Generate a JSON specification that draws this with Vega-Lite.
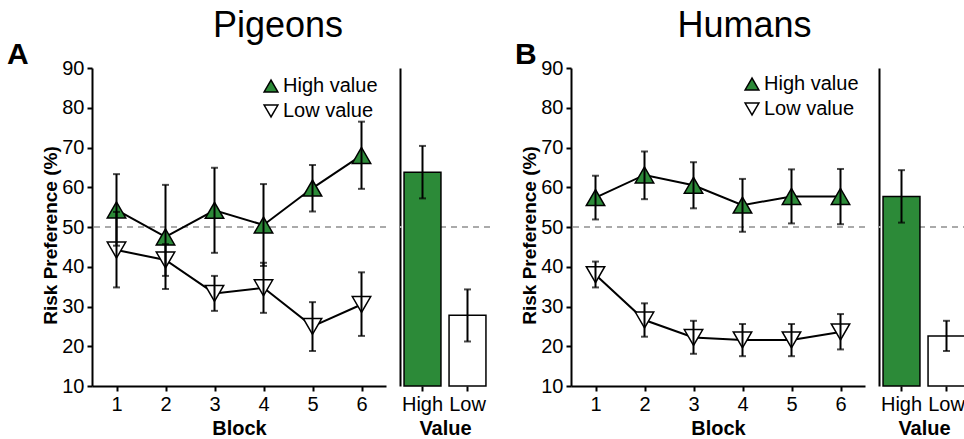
{
  "$schema": "https://vega.github.io/schema/vega-lite/v6.json",
  "background": "white",
  "padding": {"left": 7, "top": 8, "right": 0, "bottom": 0},
  "datasets": {
    "lines": [
      {"species": "Pigeons", "series": "High value", "block": 1, "mean": 54.3, "lo": 45.3, "hi": 63.3},
      {"species": "Pigeons", "series": "High value", "block": 2, "mean": 47.5, "lo": 34.4, "hi": 60.6},
      {"species": "Pigeons", "series": "High value", "block": 3, "mean": 54.2, "lo": 43.5, "hi": 64.9},
      {"species": "Pigeons", "series": "High value", "block": 4, "mean": 50.5, "lo": 40.2, "hi": 60.8},
      {"species": "Pigeons", "series": "High value", "block": 5, "mean": 59.8, "lo": 53.9, "hi": 65.6},
      {"species": "Pigeons", "series": "High value", "block": 6, "mean": 68.0, "lo": 59.6, "hi": 76.5},
      {"species": "Pigeons", "series": "Low value", "block": 1, "mean": 44.2, "lo": 34.8, "hi": 53.8},
      {"species": "Pigeons", "series": "Low value", "block": 2, "mean": 41.7, "lo": 37.7, "hi": 45.7},
      {"species": "Pigeons", "series": "Low value", "block": 3, "mean": 33.3, "lo": 28.9, "hi": 37.7},
      {"species": "Pigeons", "series": "Low value", "block": 4, "mean": 34.7, "lo": 28.4, "hi": 41.0},
      {"species": "Pigeons", "series": "Low value", "block": 5, "mean": 25.0, "lo": 18.8, "hi": 31.1},
      {"species": "Pigeons", "series": "Low value", "block": 6, "mean": 30.5, "lo": 22.6, "hi": 38.6},
      {"species": "Humans", "series": "High value", "block": 1, "mean": 57.4, "lo": 51.9, "hi": 62.9},
      {"species": "Humans", "series": "High value", "block": 2, "mean": 63.1, "lo": 57.0, "hi": 69.0},
      {"species": "Humans", "series": "High value", "block": 3, "mean": 60.5, "lo": 54.7, "hi": 66.3},
      {"species": "Humans", "series": "High value", "block": 4, "mean": 55.5, "lo": 48.8, "hi": 62.1},
      {"species": "Humans", "series": "High value", "block": 5, "mean": 57.7, "lo": 50.9, "hi": 64.5},
      {"species": "Humans", "series": "High value", "block": 6, "mean": 57.7, "lo": 50.7, "hi": 64.6},
      {"species": "Humans", "series": "Low value", "block": 1, "mean": 38.0, "lo": 34.8, "hi": 41.3},
      {"species": "Humans", "series": "Low value", "block": 2, "mean": 26.6, "lo": 22.4, "hi": 30.8},
      {"species": "Humans", "series": "Low value", "block": 3, "mean": 22.2, "lo": 18.1, "hi": 26.4},
      {"species": "Humans", "series": "Low value", "block": 4, "mean": 21.6, "lo": 17.5, "hi": 25.6},
      {"species": "Humans", "series": "Low value", "block": 5, "mean": 21.6, "lo": 17.5, "hi": 25.6},
      {"species": "Humans", "series": "Low value", "block": 6, "mean": 23.6, "lo": 19.2, "hi": 28.1}
    ],
    "bars": [
      {"species": "Pigeons", "value": "High", "mean": 63.8, "lo": 57.2, "hi": 70.4},
      {"species": "Pigeons", "value": "Low", "mean": 27.8, "lo": 21.2, "hi": 34.3},
      {"species": "Humans", "value": "High", "mean": 57.7, "lo": 51.1, "hi": 64.3},
      {"species": "Humans", "value": "Low", "mean": 22.6, "lo": 18.8, "hi": 26.4}
    ]
  },
  "config": {
    "font": "Liberation Sans",
    "view": {"stroke": null},
    "axis": {
      "domainColor": "black", "domainWidth": 2, "tickColor": "black", "tickWidth": 2, "tickSize": 5,
      "labelFontSize": 20, "labelColor": "black", "labelPadding": 3, "labelFont": "Liberation Sans", "labelOverlap": false,
      "titleFontSize": 20, "titleFontWeight": "bold", "titleColor": "black", "titleFont": "Liberation Sans", "grid": false
    },
    "legend": {
      "labelFontSize": 20, "labelFont": "Liberation Sans", "labelColor": "black", "symbolSize": 190,
      "symbolStrokeWidth": 1.5, "rowPadding": 5, "labelOffset": 2, "padding": 0
    },
    "title": {"color": "black", "font": "Liberation Sans"}
  },
  "spacing": 24,
  "resolve": {"scale": {"x": "independent", "y": "independent", "fill": "independent", "shape": "independent", "stroke": "independent"}, "legend": {"fill": "independent", "shape": "independent", "stroke": "independent"}},
  "hconcat": [
    {
      "title": {"text": "Pigeons", "fontSize": 36, "fontWeight": "normal", "anchor": "middle", "offset": -5, "dx": 29},
      "spacing": 12,
      "resolve": {"scale": {"x": "independent", "y": "independent", "fill": "independent", "shape": "independent", "stroke": "independent"}, "legend": {"fill": "independent", "shape": "independent", "stroke": "independent"}},
      "hconcat": [
        {
          "title": {"text": "A", "anchor": "start", "frame": "group", "dx": -85, "fontSize": 30, "fontWeight": "bold", "offset": -12},
          "width": 294, "height": 318,
          "data": {"name": "lines"},
          "transform": [{"filter": "datum.species === 'Pigeons'"}],
          "layer": [
            {"mark": {"type": "rule", "strokeDash": [6, 5], "color": "#aaaaaa", "strokeWidth": 2},
             "encoding": {"y": {"datum": 50, "type": "quantitative", "scale": {"domain": [10, 90], "nice": false}, "axis": {"values": [10, 20, 30, 40, 50, 60, 70, 80, 90], "labelOverlap": false, "title": "Risk Preference (%)", "titleFontSize": 19, "titlePadding": 1, "titleY": 167}}}},
            {"mark": {"type": "line", "color": "black", "strokeWidth": 2},
             "encoding": {
               "x": {"field": "block", "type": "quantitative", "scale": {"domain": [0.5, 6.5], "nice": false}, "axis": {"values": [1, 2, 3, 4, 5, 6], "format": "d", "title": "Block"}},
               "y": {"field": "mean", "type": "quantitative", "scale": {"domain": [10, 90], "nice": false}, "axis": {"values": [10, 20, 30, 40, 50, 60, 70, 80, 90], "labelOverlap": false, "title": "Risk Preference (%)", "titleFontSize": 19, "titlePadding": 1, "titleY": 167}},
               "detail": {"field": "series"}}},
            {"mark": {"type": "point", "filled": true, "size": 340, "strokeWidth": 1.5, "opacity": 1},
             "encoding": {
               "x": {"field": "block", "type": "quantitative"},
               "y": {"field": "mean", "type": "quantitative", "axis": {"values": [10, 20, 30, 40, 50, 60, 70, 80, 90], "labelOverlap": false, "title": "Risk Preference (%)", "titleFontSize": 19, "titlePadding": 1, "titleY": 167}},
               "shape": {"field": "series", "type": "nominal", "scale": {"domain": ["High value", "Low value"], "range": ["triangle-up", "triangle-down"]}, "legend": {"title": null, "orient": "top-right", "offset": 8}},
               "fill": {"field": "series", "type": "nominal", "scale": {"domain": ["High value", "Low value"], "range": ["#2c8a38", "#ffffff"]}, "legend": {"title": null, "orient": "top-right", "offset": 8}},
               "stroke": {"field": "series", "type": "nominal", "scale": {"domain": ["High value", "Low value"], "range": ["#000000", "#000000"]}, "legend": {"title": null, "orient": "top-right", "offset": 8}}}},
            {"mark": {"type": "errorbar", "ticks": {"size": 7, "thickness": 2, "color": "black"}, "rule": {"strokeWidth": 2, "color": "black"}},
             "encoding": {
               "x": {"field": "block", "type": "quantitative"},
               "y": {"field": "lo", "type": "quantitative", "axis": {"values": [10, 20, 30, 40, 50, 60, 70, 80, 90], "labelOverlap": false, "title": "Risk Preference (%)", "titleFontSize": 19, "titlePadding": 1, "titleY": 167}},
               "y2": {"field": "hi"}}}
          ]
        },
        {
          "width": 90, "height": 318,
          "data": {"name": "bars"},
          "transform": [{"filter": "datum.species === 'Pigeons'"}],
          "layer": [
            {"mark": {"type": "rule", "strokeDash": [6, 5], "color": "#aaaaaa", "strokeWidth": 2},
             "encoding": {"y": {"datum": 50, "type": "quantitative", "scale": {"domain": [10, 90], "nice": false}, "axis": {"labels": false, "ticks": false, "title": null, "domain": true}}}},
            {"mark": {"type": "bar", "stroke": "black", "strokeWidth": 1.5},
             "encoding": {
               "x": {"field": "value", "type": "nominal", "sort": ["High", "Low"], "scale": {"paddingInner": 0.18, "paddingOuter": 0.09}, "axis": {"title": "Value", "labelAngle": 0, "domain": false}},
               "y": {"field": "mean", "type": "quantitative", "scale": {"domain": [10, 90], "nice": false}, "axis": {"labels": false, "ticks": false, "title": null, "domain": true}},
               "y2": {"datum": 10},
               "fill": {"field": "value", "type": "nominal", "scale": {"domain": ["High", "Low"], "range": ["#2c8a38", "#ffffff"]}, "legend": null}}},
            {"mark": {"type": "errorbar", "ticks": {"size": 7, "thickness": 2, "color": "black"}, "rule": {"strokeWidth": 2, "color": "black"}},
             "encoding": {
               "x": {"field": "value", "type": "nominal", "sort": ["High", "Low"]},
               "y": {"field": "lo", "type": "quantitative", "axis": {"labels": false, "ticks": false, "title": null, "domain": true}},
               "y2": {"field": "hi"}}}
          ]
        }
      ]
    },
    {
      "title": {"text": "Humans", "fontSize": 36, "fontWeight": "normal", "anchor": "middle", "offset": -5, "dx": 2},
      "spacing": 12,
      "resolve": {"scale": {"x": "independent", "y": "independent", "fill": "independent", "shape": "independent", "stroke": "independent"}, "legend": {"fill": "independent", "shape": "independent", "stroke": "independent"}},
      "hconcat": [
        {
          "title": {"text": "B", "anchor": "start", "frame": "group", "dx": -56, "fontSize": 30, "fontWeight": "bold", "offset": -12},
          "width": 294, "height": 318,
          "data": {"name": "lines"},
          "transform": [{"filter": "datum.species === 'Humans'"}],
          "layer": [
            {"mark": {"type": "rule", "strokeDash": [6, 5], "color": "#aaaaaa", "strokeWidth": 2},
             "encoding": {"y": {"datum": 50, "type": "quantitative", "scale": {"domain": [10, 90], "nice": false}, "axis": {"values": [10, 20, 30, 40, 50, 60, 70, 80, 90], "labelOverlap": false, "title": "Risk Preference (%)", "titleFontSize": 19, "titlePadding": 1, "titleY": 167}}}},
            {"mark": {"type": "line", "color": "black", "strokeWidth": 2},
             "encoding": {
               "x": {"field": "block", "type": "quantitative", "scale": {"domain": [0.5, 6.5], "nice": false}, "axis": {"values": [1, 2, 3, 4, 5, 6], "format": "d", "title": "Block"}},
               "y": {"field": "mean", "type": "quantitative", "scale": {"domain": [10, 90], "nice": false}, "axis": {"values": [10, 20, 30, 40, 50, 60, 70, 80, 90], "labelOverlap": false, "title": "Risk Preference (%)", "titleFontSize": 19, "titlePadding": 1, "titleY": 167}},
               "detail": {"field": "series"}}},
            {"mark": {"type": "point", "filled": true, "size": 340, "strokeWidth": 1.5, "opacity": 1},
             "encoding": {
               "x": {"field": "block", "type": "quantitative"},
               "y": {"field": "mean", "type": "quantitative", "axis": {"values": [10, 20, 30, 40, 50, 60, 70, 80, 90], "labelOverlap": false, "title": "Risk Preference (%)", "titleFontSize": 19, "titlePadding": 1, "titleY": 167}},
               "shape": {"field": "series", "type": "nominal", "scale": {"domain": ["High value", "Low value"], "range": ["triangle-up", "triangle-down"]}, "legend": {"title": null, "orient": "top-right", "offset": 6}},
               "fill": {"field": "series", "type": "nominal", "scale": {"domain": ["High value", "Low value"], "range": ["#2c8a38", "#ffffff"]}, "legend": {"title": null, "orient": "top-right", "offset": 6}},
               "stroke": {"field": "series", "type": "nominal", "scale": {"domain": ["High value", "Low value"], "range": ["#000000", "#000000"]}, "legend": {"title": null, "orient": "top-right", "offset": 6}}}},
            {"mark": {"type": "errorbar", "ticks": {"size": 7, "thickness": 2, "color": "black"}, "rule": {"strokeWidth": 2, "color": "black"}},
             "encoding": {
               "x": {"field": "block", "type": "quantitative"},
               "y": {"field": "lo", "type": "quantitative", "axis": {"values": [10, 20, 30, 40, 50, 60, 70, 80, 90], "labelOverlap": false, "title": "Risk Preference (%)", "titleFontSize": 19, "titlePadding": 1, "titleY": 167}},
               "y2": {"field": "hi"}}}
          ]
        },
        {
          "width": 90, "height": 318,
          "data": {"name": "bars"},
          "transform": [{"filter": "datum.species === 'Humans'"}],
          "layer": [
            {"mark": {"type": "rule", "strokeDash": [6, 5], "color": "#aaaaaa", "strokeWidth": 2},
             "encoding": {"y": {"datum": 50, "type": "quantitative", "scale": {"domain": [10, 90], "nice": false}, "axis": {"labels": false, "ticks": false, "title": null, "domain": true}}}},
            {"mark": {"type": "bar", "stroke": "black", "strokeWidth": 1.5},
             "encoding": {
               "x": {"field": "value", "type": "nominal", "sort": ["High", "Low"], "scale": {"paddingInner": 0.18, "paddingOuter": 0.09}, "axis": {"title": "Value", "labelAngle": 0, "domain": false}},
               "y": {"field": "mean", "type": "quantitative", "scale": {"domain": [10, 90], "nice": false}, "axis": {"labels": false, "ticks": false, "title": null, "domain": true}},
               "y2": {"datum": 10},
               "fill": {"field": "value", "type": "nominal", "scale": {"domain": ["High", "Low"], "range": ["#2c8a38", "#ffffff"]}, "legend": null}}},
            {"mark": {"type": "errorbar", "ticks": {"size": 7, "thickness": 2, "color": "black"}, "rule": {"strokeWidth": 2, "color": "black"}},
             "encoding": {
               "x": {"field": "value", "type": "nominal", "sort": ["High", "Low"]},
               "y": {"field": "lo", "type": "quantitative", "axis": {"labels": false, "ticks": false, "title": null, "domain": true}},
               "y2": {"field": "hi"}}}
          ]
        }
      ]
    }
  ]
}
